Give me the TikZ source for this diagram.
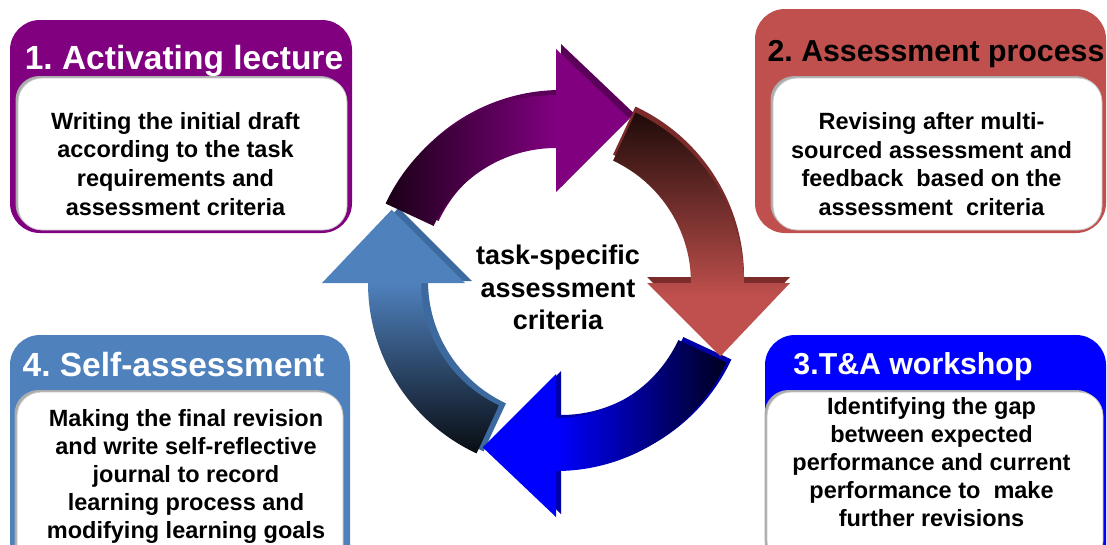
\documentclass[tikz,border=0pt]{standalone}
\usepackage{fontspec}
\setmainfont{Liberation Sans}
\usetikzlibrary{shadows}
\definecolor{purp}{HTML}{800080}
\definecolor{pdark}{HTML}{1A0016}
\definecolor{pside}{HTML}{5A0058}
\definecolor{rface}{HTML}{C0504D}
\definecolor{rdark}{HTML}{1E0B09}
\definecolor{rside}{HTML}{7B2C2A}
\definecolor{bface}{HTML}{0000FF}
\definecolor{bdark}{HTML}{00001E}
\definecolor{bside}{HTML}{0000A8}
\definecolor{lbface}{HTML}{4F81BD}
\definecolor{lbdark}{HTML}{080C12}
\definecolor{lbside}{HTML}{3D6A9E}
\pgfdeclarehorizontalshading{purpsh}{100bp}{color(0bp)=(pdark); color(25bp)=(pdark); color(60bp)=(purp); color(100bp)=(purp)}
\pgfdeclareverticalshading{redsh}{100bp}{color(0bp)=(rface); color(37bp)=(rface); color(75bp)=(rdark); color(100bp)=(rdark)}
\pgfdeclarehorizontalshading{bluesh}{100bp}{color(0bp)=(bface); color(40bp)=(bface); color(75bp)=(bdark); color(100bp)=(bdark)}
\pgfdeclareverticalshading{lbsh}{100bp}{color(0bp)=(lbdark); color(25bp)=(lbdark); color(60bp)=(lbface); color(100bp)=(lbface)}
\newcommand{\arrowshape}[1]{({#1+65}:188) arc[start angle={#1+65}, end angle={#1}, radius=188] -- ({#1}:234) -- ({#1-24}:180) -- ({#1}:91) -- ({#1}:135) arc[start angle={#1}, end angle={#1+65}, radius=135] -- cycle}
\frenchspacing
\begin{document}
\begin{tikzpicture}[x=1pt,y=1pt,
  obox/.style={draw=none, rounded corners=30pt, inner sep=0pt, outer sep=0pt},
  ibox/.style={fill=white, draw=gray!45, line width=0.8pt, rounded corners=24pt, inner sep=0pt, outer sep=0pt,
     drop shadow={shadow xshift=-2.5pt, shadow yshift=2pt, fill=gray!65, opacity=1}},
  ttlA/.style={font=\frenchspacing\bfseries\fontsize{33.5}{40}\selectfont, inner sep=0pt, anchor=base},
  ttlB/.style={font=\frenchspacing\bfseries\fontsize{30.3}{36}\selectfont, inner sep=0pt, anchor=base},
  bodyA/.style={font=\bfseries\fontsize{23.5}{28.6}\selectfont, align=center, inner sep=0pt},
  bodyB/.style={font=\bfseries\fontsize{23.5}{28}\selectfont, align=center, inner sep=0pt},
  ctext/.style={font=\bfseries\fontsize{27}{32.5}\selectfont, align=center, inner sep=0pt}]
\useasboundingbox (0,0) rectangle (1107,-544);
\clip (0,0) rectangle (1107,-544);
\fill[white] (0,0) rectangle (1107,-544);

% corner boxes
\node[obox, fill=purp, minimum width=342pt, minimum height=213pt] (b1) at (181,-126.5) {};
\node[ibox, minimum width=329pt, minimum height=152pt] (b1in) at (182.5,-154) {};
\node[obox, fill=rface, minimum width=351pt, minimum height=224pt] (b2) at (930.5,-121) {};
\node[ibox, minimum width=329pt, minimum height=152pt] (b2in) at (937.5,-154) {};
\node[obox, fill=lbface, minimum width=340pt, minimum height=240pt] (b4) at (180,-455) {};
\node[ibox, minimum width=326pt, minimum height=178pt] (b4in) at (180,-481) {};
\node[obox, fill=bface, minimum width=341pt, minimum height=240pt] (b3) at (935.5,-455) {};
\node[ibox, minimum width=336pt, minimum height=173pt] (b3in) at (935,-478.5) {};

% titles
\node[ttlA, text=white] (t1) at (184,-69) {1. Activating lecture};
\node[ttlB, text=black] (t2) at (936,-61) {2. Assessment process};
\node[ttlA, text=white] (t4) at (173.5,-376) {4. Self-assessment};
\node[ttlB, text=white] (t3) at (913,-374) {3.T\&A workshop};

% body texts
\node[bodyA] (x1) at (175.5,-163.8) {Writing the initial draft\\according to the task\\requirements and\\assessment criteria};
\node[bodyA] (x2) at (931.5,-164.2) {Revising after multi-\\sourced assessment and\\feedback~ based on the\\assessment~ criteria};
\node[bodyB] (x4) at (186,-476.9) {Making the final revision\\and write self-reflective\\journal to record\\learning process and\\modifying learning goals};
\node[bodyB] (x3) at (931.5,-462.4) {Identifying the gap\\between expected\\performance and current\\performance to~ make\\further revisions};

% circular arrows
\begin{scope}[shift={(556,-283)}]
  \fill[pside, shift={(5,5)}] \arrowshape{90};
  \fill[rside, shift={(0,6)}] \arrowshape{0};
  \fill[bside, shift={(5,3)}] \arrowshape{-90};
  \fill[lbside, shift={(7,2)}] \arrowshape{180};
  \shade[shading=purpsh] \arrowshape{90};
  \shade[shading=redsh] \arrowshape{0};
  \shade[shading=bluesh] \arrowshape{-90};
  \shade[shading=lbsh] \arrowshape{180};
\end{scope}

\node[ctext] (c) at (558,-287.7) {task-specific\\assessment\\criteria};
\end{tikzpicture}
\end{document}
